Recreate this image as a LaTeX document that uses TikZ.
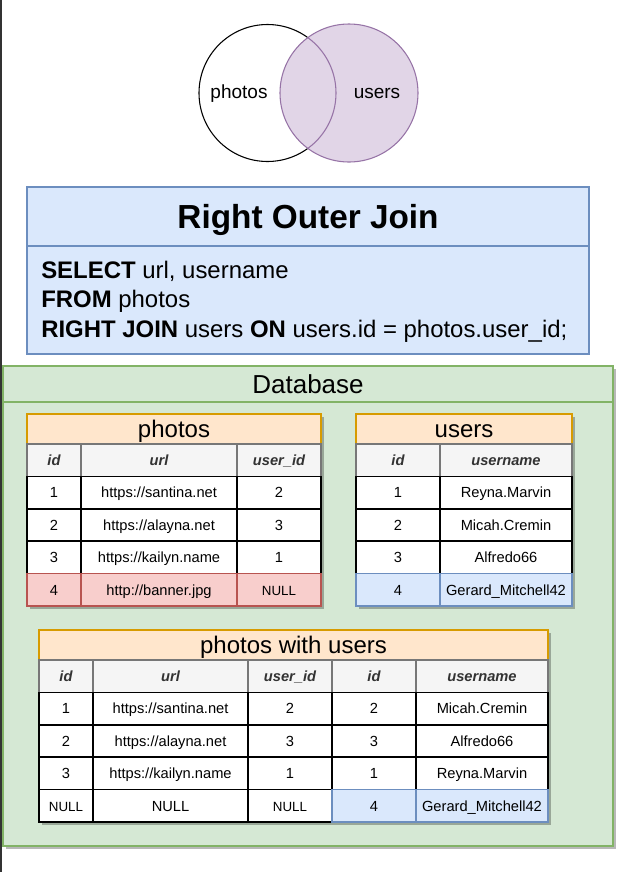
\documentclass[tikz,border=0pt]{standalone}
\usepackage{fontspec}
\setmainfont{Liberation Sans}

\definecolor{blueF}{HTML}{DAE8FC}
\definecolor{blueD}{HTML}{6C8EBF}
\definecolor{greenF}{HTML}{D5E8D4}
\definecolor{greenD}{HTML}{82B366}
\definecolor{orangeF}{HTML}{FFE6CC}
\definecolor{orangeD}{HTML}{D79B00}
\definecolor{redF}{HTML}{F8CECC}
\definecolor{redD}{HTML}{B85450}
\definecolor{purpF}{HTML}{E1D5E7}
\definecolor{purpD}{HTML}{9673A6}
\definecolor{hdrF}{HTML}{F5F5F5}
\definecolor{hdrD}{HTML}{777777}
\definecolor{txtD}{HTML}{333333}

\tikzset{
  tbl/.style={draw, inner sep=0pt, minimum height=24.3pt, text height=7.8pt, text depth=0pt,
    font=\fontsize{11}{13}\selectfont},
  cell/.style={tbl, fill=white, draw=black, line width=1.1pt},
  hcell/.style={tbl, fill=hdrF, draw=hdrD, line width=0.9pt, text=txtD, text height=8pt,
    font=\fontsize{11}{13}\selectfont\bfseries\itshape},
  redcell/.style={tbl, fill=redF, draw=redD, line width=1pt},
  bluecell/.style={tbl, fill=blueF, draw=blueD, line width=1pt},
  tname/.style={draw=orangeD, fill=orangeF, line width=0.9pt, inner sep=0pt, minimum height=22.5pt,
    text height=12.9pt, text depth=0pt, font=\fontsize{18}{21}\selectfont},
  colid/.style={minimum width=40.5pt},
  colurl/.style={minimum width=117pt},
  colnum/.style={minimum width=63pt},
  colname/.style={minimum width=99pt},
  smallnull/.style={font=\fontsize{10}{12}\selectfont},
  tshadow/.style={fill=black, opacity=0.28},
  sqlline/.style={anchor=base west, inner sep=0pt, font=\fontsize{17.95}{21}\selectfont},
  vlabel/.style={anchor=base, inner sep=0pt, font=\fontsize{14.25}{17}\selectfont}
}

\begin{document}
\begin{tikzpicture}[x=0.75pt, y=-0.75pt]
  \useasboundingbox (0,0) rectangle (628,872);
  \draw[black!80, line width=1.2pt] (0.8,0) -- (0.8,872);

  % venn diagram
  \node[circle, draw=black, fill=white, line width=0.8pt, inner sep=0pt, minimum size=102.75pt] (vph) at (267.5,93) {};
  \node[circle, draw=purpD, fill=purpF, line width=0.8pt, inner sep=0pt, minimum size=103.5pt] (vus) at (349,93) {};
  \begin{scope}
    \clip (vus.center) circle (69);
    \draw[purpD, line width=0.8pt] (vph.center) circle (68.5);
  \end{scope}
  \node[vlabel] (lph) at (239,98) {photos};
  \node[vlabel] (lus) at (377,98) {users};

  % query box
  \node[draw=blueD, fill=blueF, line width=0.8pt, minimum width=421.5pt, minimum height=125.25pt, inner sep=0pt] (qbox) at (308,270.5) {};
  \node[draw=blueD, fill=blueF, line width=0.8pt, minimum width=421.5pt, minimum height=44.25pt, inner sep=0pt,
    text height=17.9pt, text depth=0pt, font=\fontsize{25}{30}\selectfont\bfseries] (qtitle) at (308,216.5) {Right Outer Join};
  \node[sqlline] (sql1) at (41,278) {\textbf{SELECT} url, username};
  \node[sqlline] (sql2) at (41,307.5) {\textbf{FROM} photos};
  \node[sqlline] (sql3) at (41,337) {\textbf{RIGHT JOIN} users \textbf{ON} users.id = photos.user\_id;};

  % database container
  \fill[tshadow] (6,369) rectangle (616,849);
  \node[draw=greenD, fill=greenF, line width=1pt, minimum width=457.5pt, minimum height=360pt, inner sep=0pt] (db) at (308,606) {};
  \node[draw=greenD, fill=greenF, line width=1pt, minimum width=457.5pt, minimum height=27pt, inner sep=0pt,
    text height=14pt, text depth=0pt, font=\fontsize{19.5}{23}\selectfont] (dbhead) at (308,384) {Database};

  % photos table
  \fill[tshadow] (30,417) rectangle (324,609);
  \node[tname, minimum width=220.5pt] (ph) at (174,429) {photos};
  \node[hcell, colid] (ph-id) at (54,460.2) {id};
  \node[hcell, colurl] (ph-url) at (159,460.2) {url};
  \node[hcell, colnum] (ph-uid) at (279,460.2) {user\_id};
  \node[cell, colid] (ph-1a) at (54,492.6) {1};
  \node[cell, colurl] (ph-1b) at (159,492.6) {https://santina.net};
  \node[cell, colnum] (ph-1c) at (279,492.6) {2};
  \node[cell, colid] (ph-2a) at (54,525) {2};
  \node[cell, colurl] (ph-2b) at (159,525) {https://alayna.net};
  \node[cell, colnum] (ph-2c) at (279,525) {3};
  \node[cell, colid] (ph-3a) at (54,557.4) {3};
  \node[cell, colurl] (ph-3b) at (159,557.4) {https://kailyn.name};
  \node[cell, colnum] (ph-3c) at (279,557.4) {1};
  \node[redcell, colid] (ph-4a) at (54,589.8) {4};
  \node[redcell, colurl] (ph-4b) at (159,589.8) {http://banner.jpg};
  \node[redcell, colnum, smallnull] (ph-4c) at (279,589.8) {NULL};

  % users table
  \fill[tshadow] (359,417) rectangle (575,609);
  \node[tname, minimum width=162pt] (us) at (464,429) {users};
  \node[hcell, colnum] (us-id) at (398,460.2) {id};
  \node[hcell, colname] (us-name) at (506,460.2) {username};
  \node[cell, colnum] (us-1a) at (398,492.6) {1};
  \node[cell, colname] (us-1b) at (506,492.6) {Reyna.Marvin};
  \node[cell, colnum] (us-2a) at (398,525) {2};
  \node[cell, colname] (us-2b) at (506,525) {Micah.Cremin};
  \node[cell, colnum] (us-3a) at (398,557.4) {3};
  \node[cell, colname] (us-3b) at (506,557.4) {Alfredo66};
  \node[bluecell, colnum] (us-4a) at (398,589.8) {4};
  \node[bluecell, colname] (us-4b) at (506,589.8) {Gerard\_Mitchell42};

  % joined table
  \fill[tshadow] (42,633) rectangle (551,825);
  \node[tname, minimum width=381.75pt] (pu) at (293.5,645) {photos with users};
  \node[hcell, colid] (pu-id) at (66,676.2) {id};
  \node[hcell, minimum width=116.25pt] (pu-url) at (170.5,676.2) {url};
  \node[hcell, colnum] (pu-uid) at (290,676.2) {user\_id};
  \node[hcell, colnum] (pu-id2) at (374,676.2) {id};
  \node[hcell, colname] (pu-name) at (482,676.2) {username};
  \node[cell, colid] (pu-1a) at (66,708.6) {1};
  \node[cell, minimum width=116.25pt] (pu-1b) at (170.5,708.6) {https://santina.net};
  \node[cell, colnum] (pu-1c) at (290,708.6) {2};
  \node[cell, colnum] (pu-1d) at (374,708.6) {2};
  \node[cell, colname] (pu-1e) at (482,708.6) {Micah.Cremin};
  \node[cell, colid] (pu-2a) at (66,741) {2};
  \node[cell, minimum width=116.25pt] (pu-2b) at (170.5,741) {https://alayna.net};
  \node[cell, colnum] (pu-2c) at (290,741) {3};
  \node[cell, colnum] (pu-2d) at (374,741) {3};
  \node[cell, colname] (pu-2e) at (482,741) {Alfredo66};
  \node[cell, colid] (pu-3a) at (66,773.4) {3};
  \node[cell, minimum width=116.25pt] (pu-3b) at (170.5,773.4) {https://kailyn.name};
  \node[cell, colnum] (pu-3c) at (290,773.4) {1};
  \node[cell, colnum] (pu-3d) at (374,773.4) {1};
  \node[cell, colname] (pu-3e) at (482,773.4) {Reyna.Marvin};
  \node[cell, colid, smallnull] (pu-4a) at (66,805.8) {NULL};
  \node[cell, minimum width=116.25pt] (pu-4b) at (170.5,805.8) {NULL};
  \node[cell, colnum, smallnull] (pu-4c) at (290,805.8) {NULL};
  \node[bluecell, colnum] (pu-4d) at (374,805.8) {4};
  \node[bluecell, colname] (pu-4e) at (482,805.8) {Gerard\_Mitchell42};
\end{tikzpicture}
\end{document}
